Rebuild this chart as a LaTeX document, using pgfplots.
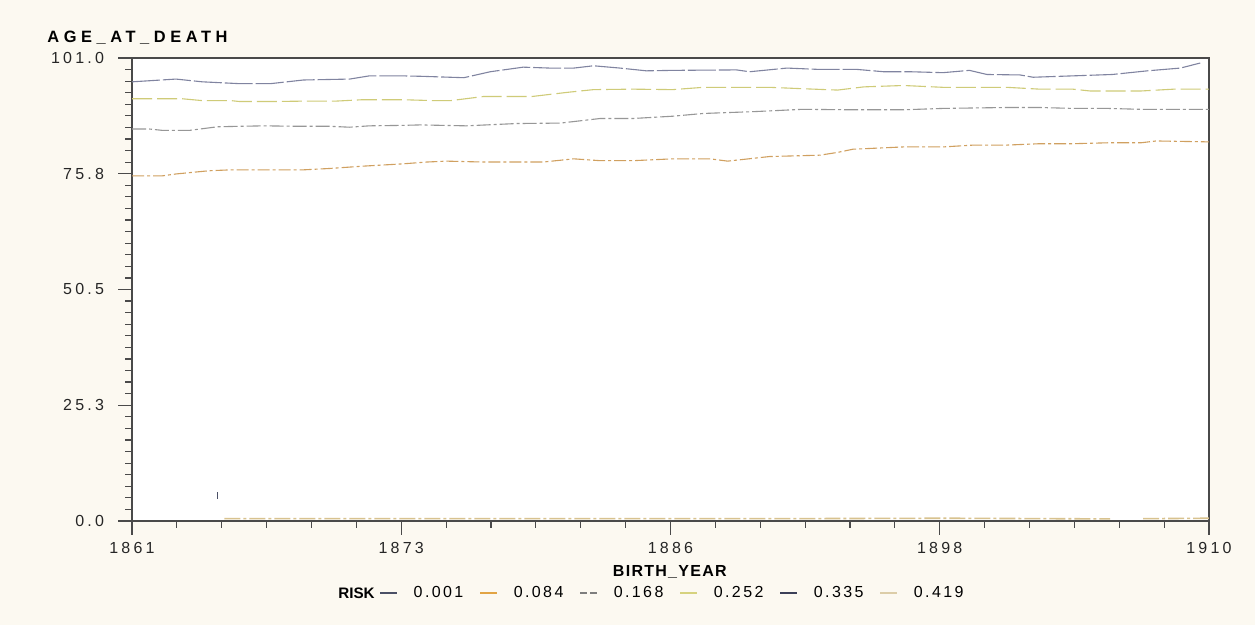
\documentclass[border=0pt]{standalone}
\usepackage{pgfplots}
\pgfplotsset{compat=1.18}
\usepackage{fontspec}
\setmainfont{Liberation Sans}
\newfontfamily\ls[LetterSpace=20]{Liberation Sans}
\newfontfamily\lst[LetterSpace=28]{Liberation Sans}
\newfontfamily\lsl[LetterSpace=15]{Liberation Sans}
\newfontfamily\lsb[LetterSpace=8]{Liberation Sans}
\definecolor{cream}{HTML}{FCF9F1}
\definecolor{frame}{HTML}{4A4A4A}
\definecolor{cA}{HTML}{8084A0}
\definecolor{cB}{HTML}{CFCB78}
\definecolor{cC}{HTML}{979797}
\definecolor{cD}{HTML}{D0A060}
\definecolor{cE}{HTML}{D8C28E}
\definecolor{lA}{HTML}{4B5066}
\definecolor{lB}{HTML}{E2A444}
\definecolor{lC}{HTML}{7E7E7E}
\definecolor{lD}{HTML}{D6D27E}
\definecolor{lE}{HTML}{3C4058}
\definecolor{lF}{HTML}{DCCDA8}
\begin{document}
\begin{tikzpicture}
\fill[cream] (0pt,0pt) rectangle (627.5pt,312.5pt);
\begin{axis}[
  at={(66pt,52pt)}, anchor=south west,
  scale only axis, width=538.5pt, height=231.5pt,
  axis background/.style={fill=white},
  xmin=1861, xmax=1910, ymin=0, ymax=101,
  axis line style={frame, line width=0.8pt},
  xtick={1861,1873.25,1885.5,1897.75,1910},
  xticklabels={1861,1873,1886,1898,1910},
  ytick={0,25.25,50.5,75.75,101},
  yticklabels={0.0,25.3,50.5,75.8,101.0},
  minor x tick num=5, minor y tick num=9,
  xtick pos=bottom, ytick pos=left,
  tick align=outside,
  major tick length=7pt, minor tick length=3.5pt,
  tick style={frame, line width=0.6pt},
  /pgf/number format/assume math mode=true,
  ticklabel style={font=\ls\fontsize{8}{9}\selectfont, text=black!85},
  yticklabel style={xshift=-3.5pt},
  xlabel={\textbf{BIRTH\_YEAR}},
  xlabel style={font=\lsb\fontsize{8}{9}\selectfont, at={(axis description cs:0.5,0)}, anchor=base, yshift=-28pt},
  unbounded coords=jump,
  legend columns=-1,
  legend style={at={(axis description cs:0.2293,-0.1555)}, anchor=west, draw=none, fill=none,
     inner sep=0pt, font=\lsl\fontsize{8}{9}\selectfont,
     /tikz/every odd column/.append style={column sep=6pt},
     /tikz/every even column/.append style={column sep=6pt}},
  legend image code/.code={\draw[#1] (0pt,0pt) -- (8.5pt,0pt);},
]
\addlegendimage{lA, line width=0.7pt}
\addlegendentry{0.001}
\addlegendimage{lB, line width=0.7pt}
\addlegendentry{0.084}
\addlegendimage{lC, line width=0.7pt, dash pattern=on 3.5pt off 1.5pt}
\addlegendentry{0.168}
\addlegendimage{lD, line width=0.7pt}
\addlegendentry{0.252}
\addlegendimage{lE, line width=0.7pt}
\addlegendentry{0.335}
\addlegendimage{lF, line width=0.7pt}
\addlegendentry{0.419}

% 0.335 (top)
\addplot[forget plot, cA, line width=0.55pt, dash pattern=on 14pt off 1.5pt] coordinates {
(1861,95.8)(1863.0,96.4)(1864.2,95.8)(1865.9,95.4)(1867.3,95.4)(1868.8,96.2)(1870.9,96.4)(1871.8,97.1)(1873.3,97.1)(1874.2,97.0)(1876.1,96.7)(1877.3,98.0)(1878.8,99.0)(1880.0,98.8)(1881.1,98.8)(1882.0,99.3)(1883.2,98.8)(1884.4,98.2)(1885.6,98.3)(1888.5,98.4)(1889.1,98.0)(1890.8,98.8)(1892.3,98.5)(1894.0,98.5)(1895.2,98.0)(1896.4,98.0)(1897.9,97.8)(1899.1,98.3)(1899.9,97.4)(1901.4,97.3)(1902.0,96.8)(1903.8,97.1)(1905.6,97.4)(1907.2,98.2)(1908.7,98.8)(1909.6,99.9)
};
% 0.252
\addplot[forget plot, cB, line width=0.55pt, dash pattern=on 10pt off 2.5pt] coordinates {
(1861,92.1)(1863.3,92.1)(1864.2,91.7)(1865.5,91.7)(1865.9,91.5)(1867.3,91.5)(1869,91.6)(1870.3,91.6)(1871.5,91.9)(1873.3,91.9)(1874.7,91.7)(1875.5,91.7)(1877.0,92.6)(1879.2,92.6)(1880.8,93.5)(1882.0,94.1)(1883.8,94.2)(1885.6,94.1)(1887.0,94.6)(1890.0,94.6)(1891.5,94.3)(1893.1,94.0)(1894.3,94.7)(1896.1,95.0)(1897.9,94.6)(1900.8,94.6)(1902.3,94.2)(1903.8,94.2)(1904.6,93.8)(1906.9,93.8)(1908.4,94.2)(1910,94.2)
};
% 0.168
\addplot[forget plot, cC, line width=0.55pt, dash pattern=on 7pt off 1.5pt on 1.5pt off 1.5pt] coordinates {
(1861,85.5)(1861.8,85.5)(1862.4,85.2)(1863.6,85.2)(1864.9,86.0)(1867.0,86.2)(1868.5,86.1)(1870.0,86.1)(1870.9,85.9)(1871.8,86.2)(1873.3,86.3)(1874.1,86.4)(1876.2,86.2)(1878.5,86.7)(1880.5,86.8)(1882.3,87.8)(1883.8,87.8)(1885.6,88.3)(1887.0,88.9)(1889.3,89.3)(1891.5,89.8)(1893.8,89.7)(1896.1,89.7)(1897.9,90.0)(1900.8,90.2)(1902.3,90.2)(1903.8,90.0)(1905.4,90.0)(1906.9,89.8)(1910,89.8)
};
% 0.084
\addplot[forget plot, cD, line width=0.55pt, dash pattern=on 6pt off 1.5pt on 1.5pt off 1.5pt] coordinates {
(1861,75.3)(1862.4,75.3)(1863.0,75.7)(1864.5,76.4)(1865.5,76.6)(1868.8,76.6)(1870.0,76.9)(1871.5,77.4)(1873.3,77.9)(1874.4,78.3)(1875.3,78.5)(1877.0,78.3)(1879.7,78.3)(1881.1,79.0)(1882.3,78.6)(1883.8,78.6)(1885.6,79.0)(1887.3,79.0)(1888.1,78.5)(1890.0,79.5)(1892.3,79.8)(1893.1,80.4)(1893.8,81.1)(1896.1,81.6)(1897.9,81.6)(1899.3,82.0)(1900.8,82.0)(1902.3,82.3)(1903.8,82.3)(1905.4,82.5)(1906.9,82.5)(1907.6,82.9)(1910,82.7)
};
% 0.419 (near zero)
\addplot[forget plot, cE, line width=0.8pt, dash pattern=on 8pt off 1.5pt on 1.5pt off 1.5pt] coordinates {
(1865.2,0.5)(1872,0.5)(1880,0.5)(1890,0.5)(1898,0.6)(1905.5,0.45)(1905.6,nan)(1907,0.5)(1910,0.6)
};
% 0.001 (short mark)
\addplot[forget plot, lA, line width=0.7pt] coordinates {
(1864.9,4.9)(1864.9,6.4)
};
\end{axis}
\node[anchor=base west, font=\lst\fontsize{8.2}{9}\selectfont\bfseries, inner sep=0pt] at (23.5pt,291pt) {AGE\_AT\_DEATH};
\node[anchor=base west, font=\fontsize{7.6}{9}\selectfont\bfseries, inner sep=0pt] at (169pt,13pt) {RISK};
\end{tikzpicture}
\end{document}
